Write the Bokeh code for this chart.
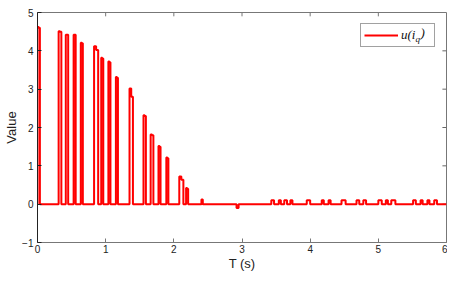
import numpy as np
from bokeh.plotting import figure
from bokeh.models import Range1d, FixedTicker, Legend, LegendItem, Label
from bokeh.embed import file_html
from bokeh.resources import INLINE

# Large pulses: start time, end time, value at start, value at end (s, -)
pulse_start = [0.00, 0.31, 0.415, 0.53, 0.635, 0.83, 0.935, 1.04, 1.15, 1.35, 1.555, 1.66, 1.775, 1.89, 2.08, 2.18]
pulse_end   = [0.035, 0.35, 0.45, 0.56, 0.665, 0.89, 0.965, 1.07, 1.18, 1.40, 1.59, 1.70, 1.805, 1.92, 2.14, 2.21]
pulse_peak  = [4.62, 4.51, 4.42, 4.42, 4.21, 4.12, 3.82, 3.72, 3.32, 3.02, 2.32, 1.82, 1.52, 1.22, 0.72, 0.42]
pulse_tail  = [4.60, 4.50, 4.42, 4.42, 4.20, 4.02, 3.80, 3.70, 3.30, 2.80, 2.30, 1.80, 1.50, 1.20, 0.64, 0.40]

# Small bumps / dip after 2.4 s
bump_start  = [2.405, 2.920, 3.43, 3.54, 3.62, 3.71, 3.95, 4.17, 4.27, 4.46, 4.68, 4.78, 5.00, 5.11, 5.19, 5.51, 5.62, 5.72, 5.82]
bump_end    = [2.425, 2.950, 3.47, 3.57, 3.66, 3.74, 4.00, 4.20, 4.30, 4.52, 4.72, 4.82, 5.05, 5.14, 5.25, 5.55, 5.65, 5.75, 5.86]
bump_height = [0.12, -0.10, 0.10, 0.10, 0.10, 0.10, 0.10, 0.10, 0.10, 0.10, 0.10, 0.10, 0.10, 0.10, 0.10, 0.10, 0.10, 0.10, 0.10]

t_end = 6.0
x_min, x_max = 0, 6
y_min, y_max = -1, 5
x_ticks = [0, 1, 2, 3, 4, 5, 6]
y_ticks = [-1, 0, 1, 2, 3, 4, 5]

# Assemble the step-like signal from the pulse tables
events = list(zip(pulse_start, pulse_end, pulse_peak, pulse_tail))
events += list(zip(bump_start, bump_end, bump_height, bump_height))
events.sort()
t, v = [], []
for s, e, pk, tl in events:
    m = (s + e) / 2.0
    t += [s, s, m, m, e, e]
    v += [0.0, pk, pk, tl, tl, 0.0]
t.append(t_end)
v.append(0.0)

p = figure(width=447, height=273, output_backend="svg", toolbar_location=None,
           x_range=Range1d(x_min, x_max), y_range=Range1d(y_min, y_max),
           min_border_left=37, min_border_right=1, min_border_top=12, min_border_bottom=29)
p.outline_line_color = "#777777"
p.xgrid.visible = False
p.ygrid.visible = False
p.background_fill_color = "white"

# inward ticks on the top and right edges of the box (mirroring the axis ticks)
tick_len_y = 0.10   # ~4 px
tick_len_x = 0.06   # ~4 px
top_x = x_ticks[1:-1]
right_y = y_ticks[1:-1]
p.segment(x0=top_x, y0=[y_max] * len(top_x), x1=top_x, y1=[y_max - tick_len_y] * len(top_x),
          line_color="#777777", line_width=1)
p.segment(x0=[x_max] * len(right_y), y0=right_y, x1=[x_max - tick_len_x] * len(right_y), y1=right_y,
          line_color="#666666", line_width=1)

r = p.line(t, v, line_color="#ff0000", line_width=2)

def style(ax, ticks, color):
    ax.ticker = FixedTicker(ticks=ticks)
    ax.major_tick_in = 4
    ax.major_tick_out = 0
    ax.minor_tick_line_color = None
    ax.axis_line_color = color
    ax.major_tick_line_color = color
    ax.major_label_text_font = "Liberation Sans"
    ax.major_label_text_font_size = "10px"
    ax.major_label_text_color = "#222222"
    ax.major_label_standoff = 2

style(p.xaxis[0], x_ticks, "#777777")
style(p.yaxis[0], y_ticks, "#222222")
p.yaxis[0].major_label_standoff = 4
p.xaxis.axis_label = "T (s)"
p.yaxis.axis_label = "Value"
for ax in (p.xaxis[0], p.yaxis[0]):
    ax.axis_label_text_font = "Liberation Sans"
    ax.axis_label_text_font_style = "normal"
    ax.axis_label_text_font_size = "13px"
    ax.axis_label_text_color = "#222222"
    ax.axis_label_standoff = 0

legend = Legend(items=[LegendItem(label="u(i", renderers=[r])], location="top_right",
                margin=11, padding=3, spacing=0, glyph_width=34, glyph_height=14,
                label_standoff=3, label_width=30, label_height=14,
                border_line_color="#444444", border_line_width=1,
                background_fill_alpha=0.0,
                label_text_font="Liberation Serif", label_text_font_style="italic",
                label_text_font_size="13px", label_text_color="#111111")
p.add_layout(legend)

lab_q = Label(x=5.545, y=4.17, x_units="data", y_units="data", text="q",
              text_font="Liberation Serif", text_font_style="italic",
              text_font_size="9px", text_color="#111111", level="overlay")
lab_p = Label(x=5.618, y=4.276, x_units="data", y_units="data", text=")",
              text_font="Liberation Serif", text_font_style="italic",
              text_font_size="13px", text_color="#111111", level="overlay")
p.add_layout(lab_q)
p.add_layout(lab_p)

open("out.html", "w").write(file_html(p, INLINE))
